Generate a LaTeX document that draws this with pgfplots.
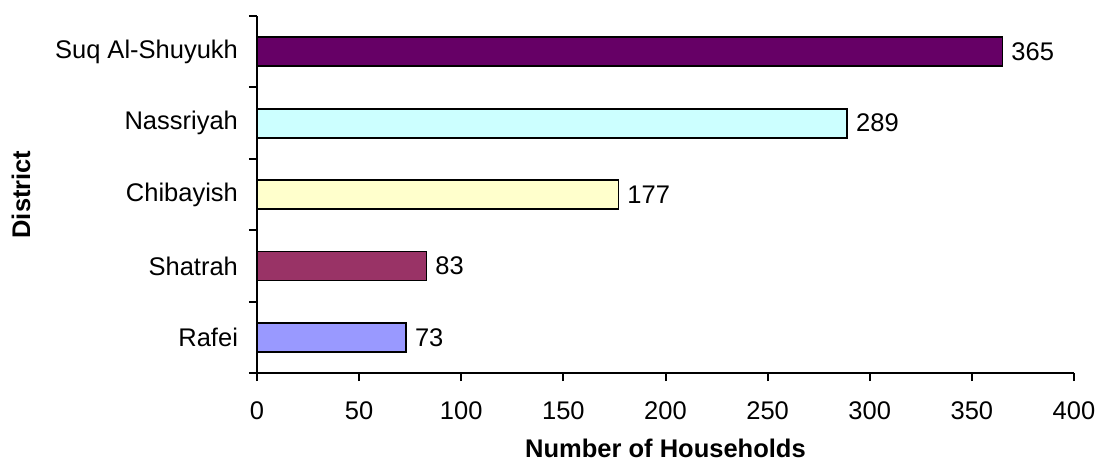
\documentclass[border=0pt]{standalone}
\usepackage{fontspec}
\setmainfont{Liberation Sans}
\usepackage{pgfplots}
\pgfplotsset{compat=1.18}

\definecolor{cPlum}{HTML}{660066}
\definecolor{cAqua}{HTML}{CCFFFF}
\definecolor{cCream}{HTML}{FFFFCC}
\definecolor{cWine}{HTML}{993366}
\definecolor{cLav}{HTML}{9999FF}

\newcommand{\lblfont}{\fontsize{12.75}{15}\selectfont}

\begin{document}
\begin{tikzpicture}
\begin{axis}[
  name=ax,
  scale only axis,
  width=408.5pt, height=178.5pt,
  xbar, bar width=14.5pt, bar shift=0pt,
  xmin=0, xmax=400, ymin=0.5, ymax=5.5,
  axis x line*=bottom, axis y line*=left,
  axis line style={-, line width=1pt},
  xtick={0,50,...,400},
  ytick={0.5,1.5,...,5.5}, yticklabels={},
  extra y ticks={1,2,3,4,5},
  extra y tick labels={Rafei,Shatrah,Chibayish,Nassriyah,Suq Al-Shuyukh},
  extra y tick style={major tick length=0pt, yticklabel style={xshift=-6pt}},
  tick align=outside, major tick length=4pt,
  every tick/.style={black, line width=1pt},
  tick label style={font=\lblfont},
  xticklabel style={yshift=-7pt},
  /pgf/number format/assume math mode=true,
  xlabel={\textbf{Number of Households}},
  xlabel style={font=\lblfont, at={(axis description cs:0.5,0)}, anchor=center, yshift=-37.5pt},
  ylabel={\textbf{District}},
  ylabel style={font=\lblfont, at={(axis description cs:-0.2889,0.5)}, anchor=center},
  point meta=x,
  nodes near coords,
  nodes near coords style={font=\lblfont, anchor=west, inner sep=0pt, xshift=4pt},
  every axis plot/.append style={draw=black, line width=0.9pt},
]
\addplot[fill=cPlum]  coordinates {(365,5)};
\addplot[fill=cAqua]  coordinates {(289,4)};
\addplot[fill=cCream] coordinates {(177,3)};
\addplot[fill=cWine]  coordinates {(83,2)};
\addplot[fill=cLav]   coordinates {(73,1)};
\end{axis}
\pgfresetboundingbox
\path ([xshift=-128.5pt,yshift=-43.5pt]ax.south west) rectangle ([xshift=11pt,yshift=8pt]ax.north east);
\end{tikzpicture}
\end{document}
